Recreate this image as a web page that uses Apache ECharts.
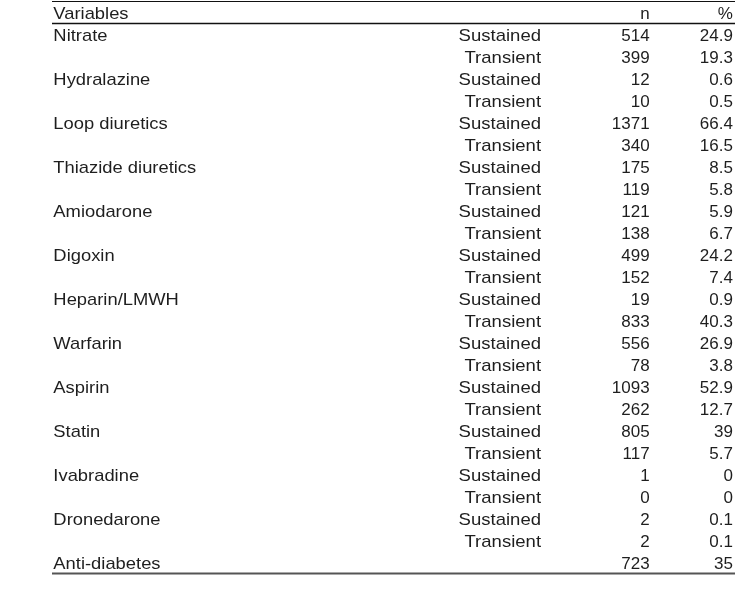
<!DOCTYPE html>
<html lang="en">
<head>
  <meta charset="utf-8">
  <title>Medication table</title>
  <script src="https://cdn.jsdelivr.net/npm/echarts@6/dist/echarts.min.js"></script>
  <style>
    html, body, #main { width: 100%; height: 100%; margin: 0; padding: 0; overflow: hidden; background: #fff; }
  </style>
</head>
<body>
  <div id="main"></div>
  <script>
    // table data
    var headers = ['Variables', '', 'n', '%'];
    var drugs = ['Nitrate', 'Hydralazine', 'Loop diuretics', 'Thiazide diuretics', 'Amiodarone', 'Digoxin',
      'Heparin/LMWH', 'Warfarin', 'Aspirin', 'Statin', 'Ivabradine', 'Dronedarone'];
    var sustainedN = [514, 12, 1371, 175, 121, 499, 19, 556, 1093, 805, 1, 2];
    var sustainedPct = [24.9, 0.6, 66.4, 8.5, 5.9, 24.2, 0.9, 26.9, 52.9, 39, 0, 0.1];
    var transientN = [399, 10, 340, 119, 138, 152, 833, 78, 262, 117, 0, 2];
    var transientPct = [19.3, 0.5, 16.5, 5.8, 6.7, 7.4, 40.3, 3.8, 12.7, 5.7, 0, 0.1];
    var lastLabel = 'Anti-diabetes';
    var lastN = 723;
    var lastPct = 35;

    var rows = [headers];
    drugs.forEach(function (d, i) {
      rows.push([d, 'Sustained', sustainedN[i], sustainedPct[i]]);
      rows.push(['', 'Transient', transientN[i], transientPct[i]]);
    });
    rows.push([lastLabel, '', lastN, lastPct]);

    // column anchors (fraction of table width), alignment and horizontal stretch
    var cols = [
      { at: 0.002, align: 'left', sx: 1.08 },
      { at: 0.716, align: 'right', sx: 1.09 },
      { at: 0.875, align: 'right', sx: 1.0 },
      { at: 0.997, align: 'right', sx: 1.0 }
    ];
    var textColor = '#1e1e1e';
    var font = '17px "Liberation Sans", Arial, sans-serif';
    var textShift = 1.5;

    function renderItem(params, api) {
      var i = api.value(1);
      var r = rows[i];
      var left = api.coord([0, i]);
      var right = api.coord([1, i]);
      var band = api.size([0, 1])[1];
      var w = right[0] - left[0];
      var y = left[1];
      var children = [];
      cols.forEach(function (c, k) {
        if (r[k] === '') return;
        children.push({
          type: 'text',
          x: left[0] + c.at * w,
          y: y + textShift,
          scaleX: c.sx,
          style: {
            text: String(r[k]),
            align: c.align,
            verticalAlign: 'middle',
            font: font,
            fill: textColor
          }
        });
      });
      if (i === 0) {
        children.push({
          type: 'line',
          shape: { x1: left[0], y1: y - band / 2 - 0.5, x2: right[0], y2: y - band / 2 - 0.5 },
          style: { stroke: '#111', lineWidth: 1.2 }
        });
        children.push({
          type: 'line',
          shape: { x1: left[0], y1: y + band / 2 - 0.5, x2: right[0], y2: y + band / 2 - 0.5 },
          style: { stroke: '#111', lineWidth: 1.5 }
        });
      }
      if (i === rows.length - 1) {
        children.push({
          type: 'line',
          shape: { x1: left[0], y1: y + band / 2 - 0.5, x2: right[0], y2: y + band / 2 - 0.5 },
          style: { stroke: '#555', lineWidth: 2 }
        });
      }
      return { type: 'group', children: children };
    }

    var chart = echarts.init(document.getElementById('main'));
    chart.setOption({
      animation: false,
      grid: { left: 52, right: 17, top: 2, bottom: 15 },
      xAxis: { type: 'value', min: 0, max: 1, show: false },
      yAxis: {
        type: 'category',
        inverse: true,
        show: false,
        data: rows.map(function (r, i) { return String(i); })
      },
      series: [{
        type: 'custom',
        renderItem: renderItem,
        silent: true,
        data: rows.map(function (r, i) { return [0, i]; })
      }]
    });
  </script>
</body>
</html>
